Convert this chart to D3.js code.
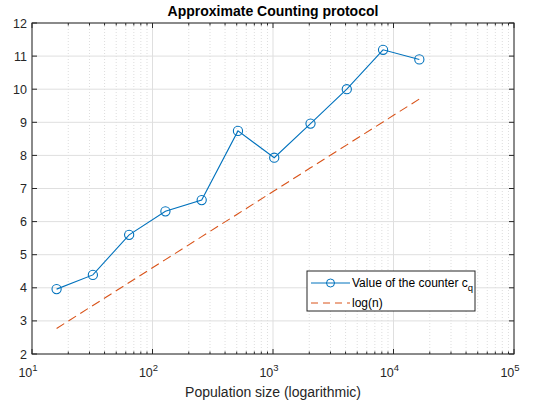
<!DOCTYPE html>
<html><head><meta charset="utf-8">
<script src="https://cdn.jsdelivr.net/npm/d3@7"></script>
<style>body{margin:0;background:#fff;}svg{display:block;font-family:"Liberation Sans",Arial,sans-serif;}</style>
</head><body>
<script>
const populationSizes = [16, 32, 64, 128, 256, 512, 1024, 2048, 4096, 8192, 16384];
const counterValues = [3.96, 4.39, 5.6, 6.31, 6.65, 8.74, 7.93, 8.96, 10.0, 11.19, 10.9];
const logValues = populationSizes.map(n => Math.log(n));
const xTickExponents = [1, 2, 3, 4, 5];
const yTicks = [2, 3, 4, 5, 6, 7, 8, 9, 10, 11, 12];
const title = "Approximate Counting protocol";
const xLabel = "Population size (logarithmic)";
const seriesNames = ["Value of the counter c", "log(n)"];

const W = 538, H = 407;
const m = {l: 32, r: 24, t: 23, b: 53};
const svg = d3.select("body").append("svg").attr("width", W).attr("height", H);
const x = d3.scaleLog().domain([10, 1e5]).range([m.l, W - m.r]);
const y = d3.scaleLinear().domain([2, 12]).range([H - m.b, m.t]);
const g = svg.append("g");
const axisCol = "#262626";

// minor grid
const minors = [];
for (let e = 1; e < 5; e++) for (let k = 2; k <= 9; k++) minors.push(k * Math.pow(10, e));
g.selectAll(".minor").data(minors).join("line")
  .attr("x1", d => x(d)).attr("x2", d => x(d)).attr("y1", y(2)).attr("y2", y(12))
  .attr("stroke", "#d4d4d4").attr("stroke-width", 0.8).attr("stroke-dasharray", "1,2");
// major grid
g.selectAll(".mx").data(xTickExponents).join("line")
  .attr("x1", d => x(Math.pow(10, d))).attr("x2", d => x(Math.pow(10, d))).attr("y1", y(2)).attr("y2", y(12))
  .attr("stroke", "#dfdfdf").attr("stroke-width", 1);
g.selectAll(".my").data(yTicks).join("line")
  .attr("x1", m.l).attr("x2", W - m.r).attr("y1", d => y(d)).attr("y2", d => y(d))
  .attr("stroke", "#dfdfdf").attr("stroke-width", 1);

// ticks inside
const tl = 5;
g.selectAll(".xt").data(xTickExponents).join("line")
  .attr("x1", d => x(Math.pow(10, d))).attr("x2", d => x(Math.pow(10, d)))
  .attr("y1", y(2)).attr("y2", y(2) - tl).attr("stroke", axisCol);
g.selectAll(".xt2").data(xTickExponents).join("line")
  .attr("x1", d => x(Math.pow(10, d))).attr("x2", d => x(Math.pow(10, d)))
  .attr("y1", y(12)).attr("y2", y(12) + tl).attr("stroke", axisCol);
g.selectAll(".xm").data(minors).join("line")
  .attr("x1", d => x(d)).attr("x2", d => x(d)).attr("y1", y(2)).attr("y2", y(2) - 2.5).attr("stroke", axisCol);
g.selectAll(".xm2").data(minors).join("line")
  .attr("x1", d => x(d)).attr("x2", d => x(d)).attr("y1", y(12)).attr("y2", y(12) + 2.5).attr("stroke", axisCol);
g.selectAll(".yt").data(yTicks).join("line")
  .attr("x1", m.l).attr("x2", m.l + tl).attr("y1", d => y(d)).attr("y2", d => y(d)).attr("stroke", axisCol);
g.selectAll(".yt2").data(yTicks).join("line")
  .attr("x1", W - m.r).attr("x2", W - m.r - tl).attr("y1", d => y(d)).attr("y2", d => y(d)).attr("stroke", axisCol);

// frame
g.append("rect").attr("x", m.l).attr("y", m.t).attr("width", W - m.l - m.r).attr("height", H - m.t - m.b)
  .attr("fill", "none").attr("stroke", axisCol).attr("stroke-width", 1);

// tick labels
g.selectAll(".yl").data(yTicks).join("text")
  .attr("x", m.l - 5).attr("y", d => y(d) + 4.5).attr("text-anchor", "end")
  .attr("font-size", 12.5).attr("fill", axisCol).text(d => d);
const xl = g.selectAll(".xl").data(xTickExponents).join("text")
  .attr("x", d => x(Math.pow(10, d)) - 4).attr("y", y(2) + 23).attr("text-anchor", "middle")
  .attr("font-size", 12.5).attr("fill", axisCol);
xl.append("tspan").text("10");
xl.append("tspan").attr("font-size", 9.5).attr("dy", -6).text(d => d);

// lines
const line = d3.line().x(d => x(d[0])).y(d => y(d[1]));
g.append("path").datum(populationSizes.map((n, i) => [n, logValues[i]]))
  .attr("d", line).attr("fill", "none").attr("stroke", "#D95319").attr("stroke-width", 1.1)
  .attr("stroke-dasharray", "9,5");
g.append("path").datum(populationSizes.map((n, i) => [n, counterValues[i]]))
  .attr("d", line).attr("fill", "none").attr("stroke", "#0072BD").attr("stroke-width", 1.1);
g.selectAll(".pt").data(populationSizes.map((n, i) => [n, counterValues[i]])).join("circle")
  .attr("cx", d => x(d[0])).attr("cy", d => y(d[1])).attr("r", 4.6)
  .attr("fill", "none").attr("stroke", "#0072BD").attr("stroke-width", 1.1);

// title & label
svg.append("text").attr("x", (m.l + W - m.r) / 2).attr("y", 16).attr("text-anchor", "middle")
  .attr("font-size", 14).attr("font-weight", "bold").attr("fill", "#000").text(title);
svg.append("text").attr("x", (m.l + W - m.r) / 2).attr("y", 397).attr("text-anchor", "middle")
  .attr("font-size", 14).attr("fill", axisCol).text(xLabel);

// legend
const lg = svg.append("g").attr("transform", "translate(307,271)");
lg.append("rect").attr("width", 168).attr("height", 40).attr("fill", "#fff").attr("stroke", axisCol).attr("stroke-width", 1);
lg.append("line").attr("x1", 4).attr("x2", 43).attr("y1", 12).attr("y2", 12).attr("stroke", "#0072BD");
lg.append("circle").attr("cx", 23.5).attr("cy", 12).attr("r", 4).attr("fill", "none").attr("stroke", "#0072BD");
const t1 = lg.append("text").attr("x", 45).attr("y", 16).attr("font-size", 12).attr("fill", "#000");
t1.append("tspan").text(seriesNames[0]);
t1.append("tspan").attr("font-size", 9.5).attr("dy", 4).text("q");
lg.append("line").attr("x1", 4).attr("x2", 43).attr("y1", 32).attr("y2", 32).attr("stroke", "#D95319").attr("stroke-dasharray", "7,5");
lg.append("text").attr("x", 45).attr("y", 36).attr("font-size", 12).attr("fill", "#000").text(seriesNames[1]);
</script>
</body></html>
